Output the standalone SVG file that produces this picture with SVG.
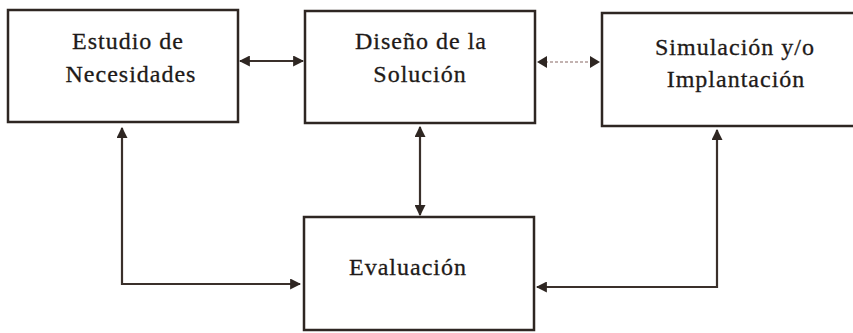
<svg xmlns="http://www.w3.org/2000/svg" width="853" height="333" viewBox="0 0 853 333">
<defs>
<style>
.box{fill:#ffffff;stroke:#2e2622;stroke-width:2.5}
.t{font-family:"Liberation Serif","Times New Roman",serif;font-size:24px;fill:#1e1a18;text-anchor:middle;letter-spacing:1px;stroke:#1e1a18;stroke-width:0.3}
.c{fill:none;stroke:#3a302b;stroke-width:2.2}
.f{fill:none;stroke:#b09a98;stroke-width:1.5;stroke-dasharray:3 2}
</style>
<marker id="ah" viewBox="0 0 10 10" refX="9" refY="5" markerWidth="5" markerHeight="5" orient="auto-start-reverse">
<path d="M0,0 L10,5 L0,10 Z" fill="#2e2622"/>
</marker>
</defs>
<rect width="853" height="333" fill="#ffffff"/>
<g id="n1">
<rect class="box" x="8" y="10" width="230" height="112"/>
<text class="t" x="128" y="49">Estudio de</text>
<text class="t" x="131" y="82">Necesidades</text>
</g>
<g id="n2">
<rect class="box" x="305" y="11" width="230" height="112"/>
<text class="t" x="421" y="49">Diseño de la</text>
<text class="t" x="420" y="82">Solución</text>
</g>
<g id="n3">
<rect class="box" x="602" y="13" width="260" height="113"/>
<text class="t" x="735" y="55">Simulación y/o</text>
<text class="t" x="736" y="87">Implantación</text>
</g>
<g id="n4">
<rect class="box" x="304" y="217" width="230" height="113"/>
<text class="t" x="408" y="275">Evaluación</text>
</g>
<g id="connectors">
<line class="c" x1="240" y1="61" x2="303" y2="61" marker-start="url(#ah)" marker-end="url(#ah)"/>
<line class="f" x1="545" y1="62" x2="592" y2="62"/>
<path d="M547,56 L537,62 L547,68 Z" fill="#2e2622"/>
<path d="M590,56 L600,62 L590,68 Z" fill="#2e2622"/>
<path class="c" d="M122,128 V284 H300" marker-start="url(#ah)" marker-end="url(#ah)"/>
<line class="c" x1="420" y1="127" x2="420" y2="215" marker-start="url(#ah)" marker-end="url(#ah)"/>
<path class="c" d="M717,130 V287 H537" marker-start="url(#ah)" marker-end="url(#ah)"/>
</g>
</svg>
